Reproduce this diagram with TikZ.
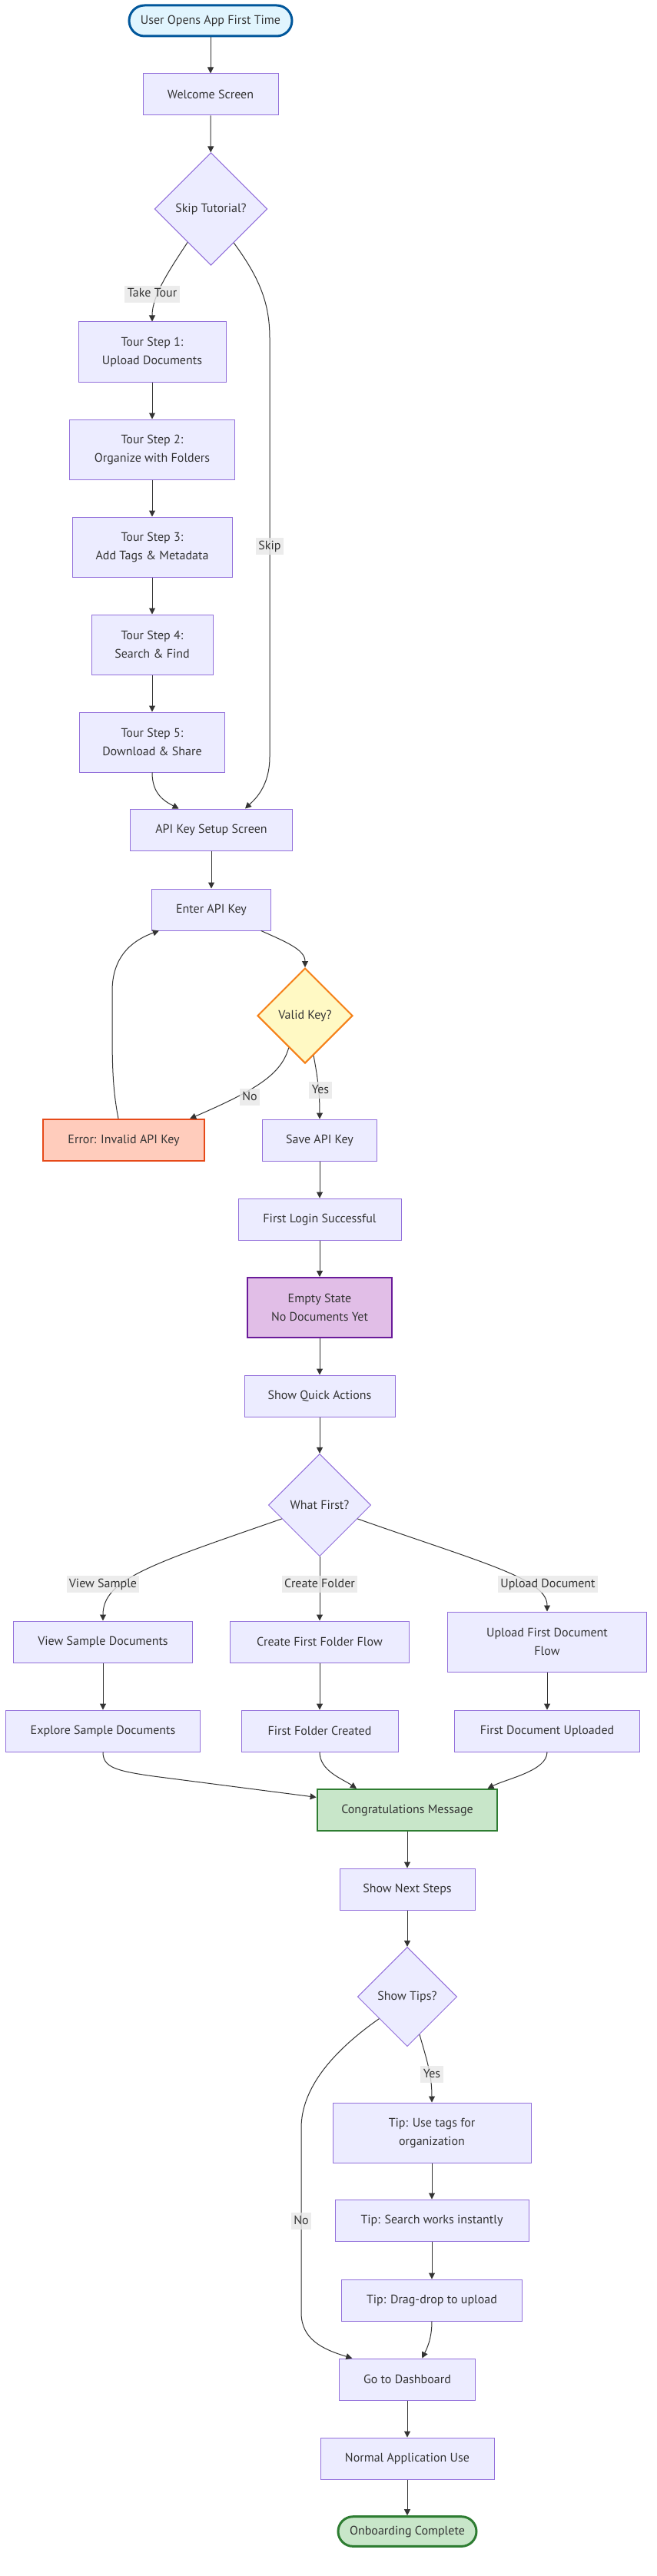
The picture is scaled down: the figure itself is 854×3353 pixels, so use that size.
\documentclass[tikz,border=0pt]{standalone}
\usepackage{fontspec}
\setmainfont{PT Sans}
\usetikzlibrary{arrows.meta,shapes.geometric}

\definecolor{boxfill}{HTML}{ECECFF}
\definecolor{boxline}{HTML}{9370DB}
\definecolor{inktext}{HTML}{333333}
\definecolor{linkline}{HTML}{333333}
\definecolor{labelbg}{HTML}{E8E8E8}
\definecolor{startfill}{HTML}{E1F5FE}
\definecolor{startline}{HTML}{01579B}
\definecolor{donefill}{HTML}{C8E6C9}
\definecolor{doneline}{HTML}{2E7D32}
\definecolor{checkfill}{HTML}{FFF9C4}
\definecolor{checkline}{HTML}{F57F17}
\definecolor{errfill}{HTML}{FFCCBC}
\definecolor{errline}{HTML}{E64A19}
\definecolor{emptyfill}{HTML}{E1BEE7}
\definecolor{emptyline}{HTML}{6A1B9A}

\tikzset{every picture/.style={line width=0.75pt}}
\tikzset{
  flowtext/.style={text=inktext, font=\fontsize{12}{18}\selectfont, align=center},
  stepbox/.style={flowtext, rectangle, draw=boxline, fill=boxfill, inner sep=0pt, minimum height=40.5pt},
  tallbox/.style={stepbox, minimum height=58.5pt},
  choice/.style={flowtext, diamond, aspect=1, draw=boxline, fill=boxfill, inner sep=0pt},
  terminal/.style={flowtext, rectangle, inner sep=0pt, line width=2.25pt},
  link/.style={draw=linkline, line width=0.75pt, -{Triangle[length=6pt,width=6pt]}},
  linklabel/.style={flowtext, fill=labelbg, fill opacity=0.8, text opacity=1, inner sep=2.5pt, text height=9pt, text depth=3pt}
}

\begin{document}
\begin{tikzpicture}[x=0.75pt,y=0.75pt,yscale=-1,xscale=1]
    \path [use as bounding box, fill=white] (0,0) rectangle (854,3353);

    %Shape: Stadium
    \node [terminal, draw=startline, fill=startfill, minimum width=159pt, minimum height=30pt, rounded corners=15pt] (start) at (274,27) {User Opens App First Time};
    %Shape: Rectangle
    \node [stepbox, minimum width=132pt] (welcome) at (274,123) {Welcome Screen};
    %Shape: Diamond
    \node [choice, minimum size=110pt] (skip) at (274.5,272) {Skip Tutorial?};
    %Shape: Rectangle
    \node [tallbox, minimum width=144pt] (ts1) at (198,458) {Tour Step 1:\\Upload Documents};
    %Shape: Rectangle
    \node [tallbox, minimum width=161pt] (ts2) at (198,585) {Tour Step 2:\\Organize with Folders};
    %Shape: Rectangle
    \node [tallbox, minimum width=156pt] (ts3) at (198,712) {Tour Step 3:\\Add Tags \& Metadata};
    %Shape: Rectangle
    \node [tallbox, minimum width=118.5pt] (ts4) at (198,839) {Tour Step 4:\\Search \& Find};
    %Shape: Rectangle
    \node [tallbox, minimum width=142pt] (ts5) at (198,966) {Tour Step 5:\\Download \& Share};
    %Shape: Rectangle
    \node [stepbox, minimum width=158pt] (apisetup) at (275,1080) {API Key Setup Screen};
    %Shape: Rectangle
    \node [stepbox, minimum width=116pt] (enterkey) at (275,1184) {Enter API Key};
    %Shape: Diamond
    \node [choice, draw=checkline, fill=checkfill, line width=1.5pt, minimum size=93pt] (validkey) at (397,1322) {Valid Key?};
    %Shape: Rectangle
    \node [stepbox, draw=errline, fill=errfill, line width=1.5pt, minimum width=157.5pt] (keyerror) at (161,1484) {Error: Invalid API Key};
    %Shape: Rectangle
    \node [stepbox, minimum width=112pt] (savekey) at (416,1484) {Save API Key};
    %Shape: Rectangle
    \node [stepbox, minimum width=159pt] (firstlogin) at (416,1587) {First Login Successful};
    %Shape: Rectangle
    \node [tallbox, draw=emptyline, fill=emptyfill, line width=1.5pt, minimum width=141pt] (emptystate) at (416,1702) {Empty State\\No Documents Yet};
    %Shape: Rectangle
    \node [stepbox, minimum width=147pt] (quickactions) at (416,1817) {Show Quick Actions};
    %Shape: Diamond
    \node [choice, minimum size=100pt] (whatfirst) at (416,1959) {What First?};
    %Shape: Rectangle
    \node [stepbox, minimum width=175pt] (viewdocs) at (134,2137) {View Sample Documents};
    %Shape: Rectangle
    \node [stepbox, minimum width=175pt] (folderflow) at (416,2137) {Create First Folder Flow};
    %Shape: Rectangle
    \node [tallbox, minimum width=194pt] (uploadflow) at (712,2137) {Upload First Document\\Flow};
    %Shape: Rectangle
    \node [stepbox, minimum width=190pt] (explore) at (134,2253) {Explore Sample Documents};
    %Shape: Rectangle
    \node [stepbox, minimum width=153pt] (foldermade) at (416,2253) {First Folder Created};
    %Shape: Rectangle
    \node [stepbox, minimum width=181pt] (docuploaded) at (712,2253) {First Document Uploaded};
    %Shape: Rectangle
    \node [stepbox, draw=doneline, fill=donefill, line width=1.5pt, minimum width=176pt] (congrats) at (530,2356) {Congratulations Message};
    %Shape: Rectangle
    \node [stepbox, minimum width=132pt] (nextsteps) at (530,2459) {Show Next Steps};
    %Shape: Diamond
    \node [choice, minimum size=97pt] (showtips) at (530,2599) {Show Tips?};
    %Shape: Rectangle
    \node [tallbox, minimum width=193.5pt] (tiptags) at (562,2776) {Tip: Use tags for\\organization};
    %Shape: Rectangle
    \node [stepbox, minimum width=189pt] (tipsearch) at (562,2890) {Tip: Search works instantly};
    %Shape: Rectangle
    \node [stepbox, minimum width=176pt] (tipdrag) at (562,2994) {Tip: Drag-drop to upload};
    %Shape: Rectangle
    \node [stepbox, minimum width=133pt] (dashboard) at (530,3097) {Go to Dashboard};
    %Shape: Rectangle
    \node [stepbox, minimum width=169.5pt] (normaluse) at (530,3200) {Normal Application Use};
    %Shape: Stadium
    \node [terminal, draw=doneline, fill=donefill, minimum width=135pt, minimum height=29pt, rounded corners=14.5pt] (finish) at (530,3295) {Onboarding Complete};

    %Straight Lines
    \draw [link] (start) -- (welcome);
    \draw [link] (welcome) -- (skip);
    \draw [link] (ts1) -- (ts2);
    \draw [link] (ts2) -- (ts3);
    \draw [link] (ts3) -- (ts4);
    \draw [link] (ts4) -- (ts5);
    \draw [link] (apisetup) -- (enterkey);
    \draw [link] (savekey) -- (firstlogin);
    \draw [link] (firstlogin) -- (emptystate);
    \draw [link] (emptystate) -- (quickactions);
    \draw [link] (quickactions) -- (whatfirst);
    \draw [link] (whatfirst) -- (folderflow);
    \draw [link] (viewdocs) -- (explore);
    \draw [link] (folderflow) -- (foldermade);
    \draw [link] (uploadflow) -- (docuploaded);
    \draw [link] (congrats) -- (nextsteps);
    \draw [link] (nextsteps) -- (showtips);
    \draw [link] (tiptags) -- (tipsearch);
    \draw [link] (tipsearch) -- (tipdrag);
    \draw [link] (dashboard) -- (normaluse);
    \draw [link] (normaluse) -- (finish);

    %Curve Lines
    \draw [link] (skip.235) .. controls (220,352) and (198,385) .. (ts1.north);
    \draw [link] (skip.304) .. controls (338,362) and (351,395) .. (351,440) -- (351,985) .. controls (351,1025) and (330,1042) .. (apisetup.32);
    \draw [link] (ts5.south) .. controls (198,1032) and (212,1042) .. (apisetup.147);
    \draw [link] (enterkey.337) .. controls (372,1226) and (397,1236) .. (validkey.north);
    \draw [link] (validkey.243) .. controls (366,1398) and (335,1418) .. (keyerror.18);
    \draw [link] (validkey.282) .. controls (414,1405) and (416,1425) .. (savekey.north);
    \draw [link] (keyerror.104) .. controls (147,1420) and (146,1390) .. (146,1340) -- (146,1290) .. controls (146,1240) and (178,1222) .. (enterkey.202);
    \draw [link] (whatfirst.200) .. controls (200,2035) and (134,2055) .. (viewdocs.north);
    \draw [link] (whatfirst.340) .. controls (630,2035) and (712,2055) .. (uploadflow.north);
    \draw [link] (explore.south) .. controls (134,2300) and (150,2305) .. (200,2312) -- (congrats.172);
    \draw [link] (foldermade.south) .. controls (416,2305) and (445,2315) .. (congrats.157);
    \draw [link] (docuploaded.south) .. controls (712,2305) and (660,2315) .. (congrats.15);
    \draw [link] (showtips.288) .. controls (555,2680) and (562,2700) .. (tiptags.north);
    \draw [link] (showtips.218) .. controls (430,2672) and (392,2720) .. (392,2770) -- (392,3010) .. controls (392,3045) and (420,3058) .. (dashboard.159);
    \draw [link] (tipdrag.south) .. controls (562,3045) and (555,3058) .. (dashboard.55);

    % Text Node
    \node [linklabel] (taketour) at (198,383) {Take Tour};
    % Text Node
    \node [linklabel] (skiplabel) at (351,711) {Skip};
    % Text Node
    \node [linklabel] (keyno) at (325,1428) {No};
    % Text Node
    \node [linklabel] (keyyes) at (417,1419) {Yes};
    % Text Node
    \node [linklabel] (samplelabel) at (134,2062) {View Sample};
    % Text Node
    \node [linklabel] (folderlabel) at (416,2062) {Create Folder};
    % Text Node
    \node [linklabel] (uploadlabel) at (713,2062) {Upload Document};
    % Text Node
    \node [linklabel] (tipsyes) at (562,2700) {Yes};
    % Text Node
    \node [linklabel] (tipsno) at (392,2891) {No};

\end{tikzpicture}
\end{document}
